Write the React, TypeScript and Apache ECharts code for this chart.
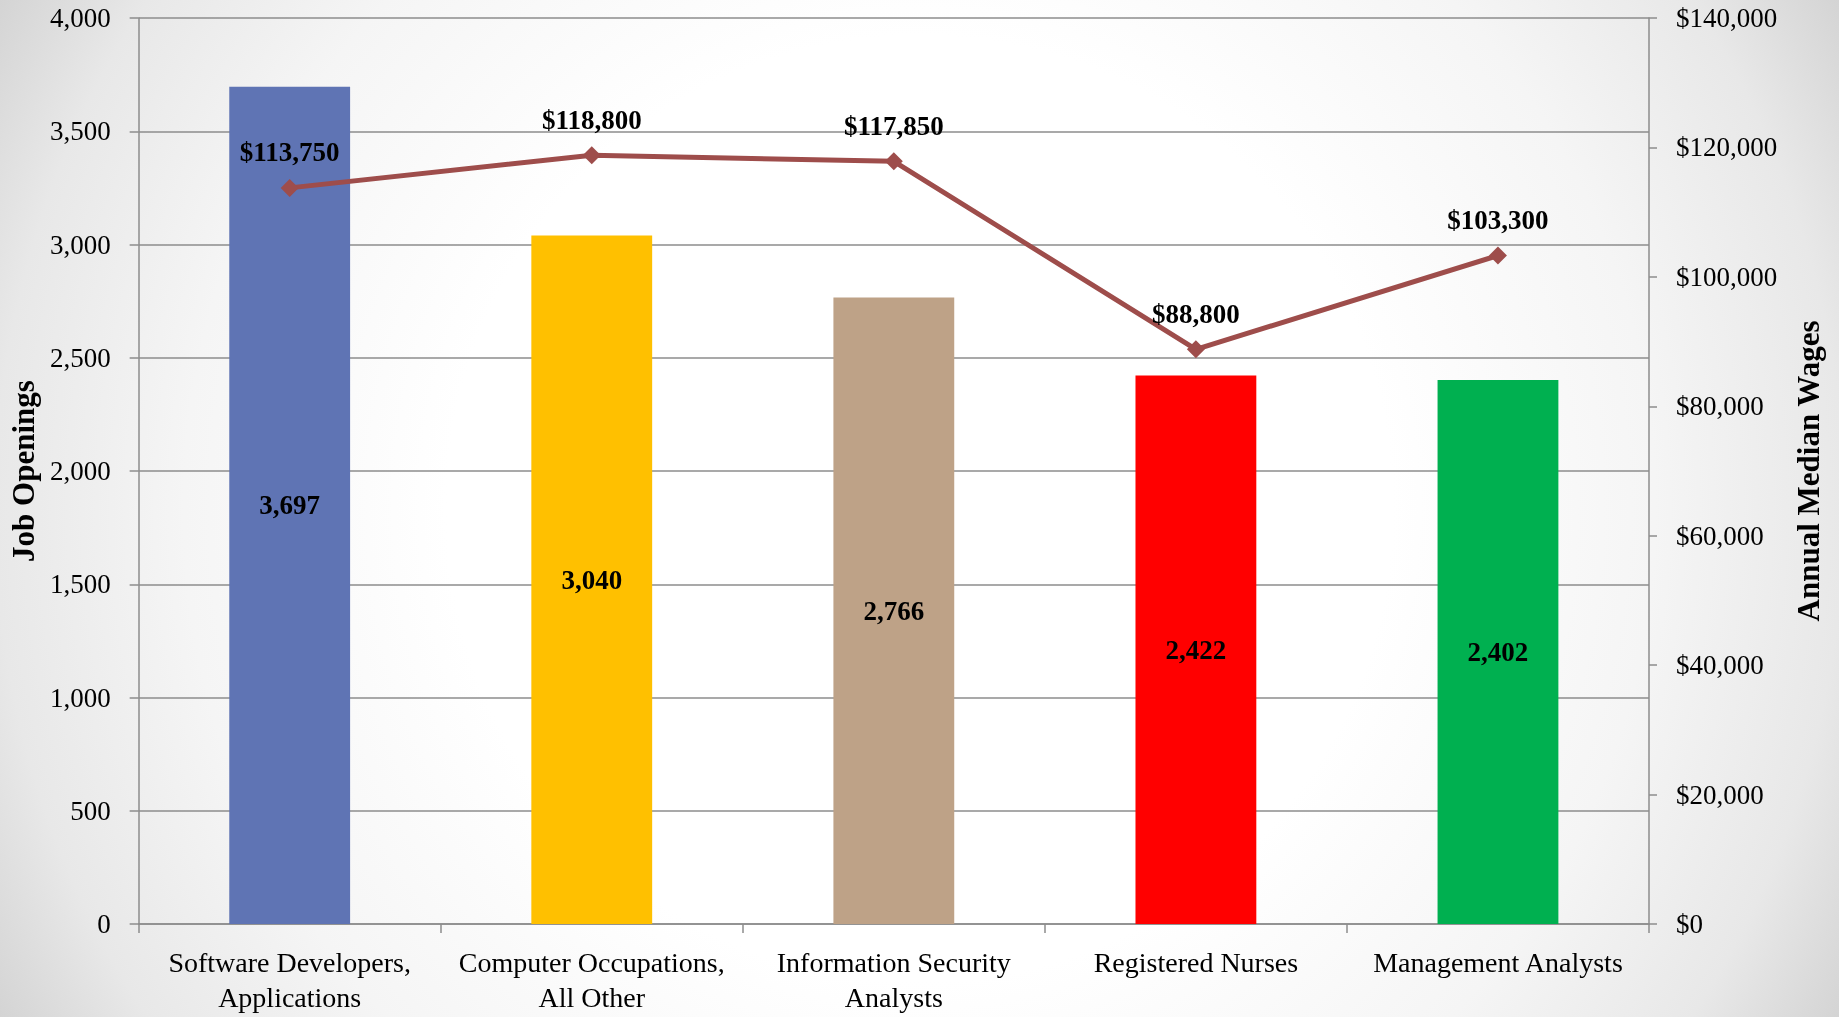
import React, { useEffect, useRef } from "react";
import * as echarts from "echarts";

const categories = [
  "Software Developers,\nApplications",
  "Computer Occupations,\nAll Other",
  "Information Security\nAnalysts",
  "Registered Nurses",
  "Management Analysts",
];
const jobOpenings = [3697, 3040, 2766, 2422, 2402];
const medianWages = [113750, 118800, 117850, 88800, 103300];
const barColors = ["#5F74B4", "#FFC000", "#BEA287", "#FF0000", "#00B050"];

const FONT = "'Liberation Serif', 'Times New Roman', serif";
const fmt = (v: number) => v.toLocaleString("en-US");

export default function App() {
  const ref = useRef<HTMLDivElement>(null);
  useEffect(() => {
    if (!ref.current) return;
    const chart = echarts.init(ref.current, null, { renderer: "svg" });
    const axisGray = "#8c8c8c";
    chart.setOption({
      animation: false,
      backgroundColor: "transparent",
      textStyle: { fontFamily: FONT, color: "#000" },
      grid: { left: 136, right: 190, top: 18, bottom: 93, containLabel: false },
      xAxis: {
        type: "category",
        data: categories,
        axisLine: { lineStyle: { color: axisGray, width: 1.5 } },
        axisTick: { show: true, length: 9, lineStyle: { color: axisGray, width: 1.5 } },
        axisLabel: {
          interval: 0,
          fontFamily: FONT,
          fontSize: 28,
          color: "#000",
          lineHeight: 35,
          margin: 21,
        },
      },
      yAxis: [
        {
          type: "value",
          min: 0,
          max: 4000,
          interval: 500,
          name: "Job Openings",
          nameLocation: "middle",
          nameRotate: 90,
          nameGap: 95,
          nameTextStyle: { fontFamily: FONT, fontSize: 31, fontWeight: "bold", color: "#000" },
          axisLine: { show: true, lineStyle: { color: axisGray, width: 1.5 } },
          axisTick: { show: true, length: 9, lineStyle: { color: axisGray, width: 1.5 } },
          axisLabel: {
            fontFamily: FONT,
            fontSize: 27,
            color: "#000",
            margin: 28,
            formatter: (v: number) => fmt(v),
          },
          splitLine: { show: true, lineStyle: { color: axisGray, width: 1.5 } },
        },
        {
          type: "value",
          min: 0,
          max: 140000,
          interval: 20000,
          position: "right",
          name: "Annual Median Wages",
          nameLocation: "middle",
          nameRotate: 90,
          nameGap: 144,
          nameTextStyle: { fontFamily: FONT, fontSize: 31, fontWeight: "bold", color: "#000" },
          axisLine: { show: true, lineStyle: { color: axisGray, width: 1.5 } },
          axisTick: { show: true, length: 8, lineStyle: { color: axisGray, width: 1.5 } },
          axisLabel: {
            fontFamily: FONT,
            fontSize: 27,
            color: "#000",
            margin: 27,
            formatter: (v: number) => "$" + fmt(v),
          },
          splitLine: { show: false },
        },
      ],
      series: [
        {
          type: "bar",
          yAxisIndex: 0,
          barWidth: "40%",
          data: jobOpenings.map((v, i) => ({ value: v, itemStyle: { color: barColors[i] } })),
          label: {
            show: true,
            position: "inside",
            fontFamily: FONT,
            fontSize: 27,
            fontWeight: "bold",
            color: "#000",
            formatter: (p: any) => fmt(p.value),
          },
        },
        {
          type: "line",
          yAxisIndex: 1,
          data: medianWages,
          symbol: "diamond",
          symbolSize: 18,
          lineStyle: { color: "#9E4D4B", width: 5 },
          itemStyle: { color: "#9E4D4B" },
          label: {
            show: true,
            position: "top",
            distance: 13,
            fontFamily: FONT,
            fontSize: 27,
            fontWeight: "bold",
            color: "#000",
            formatter: (p: any) => "$" + fmt(p.value),
          },
          z: 5,
        },
      ],
    });
    return () => chart.dispose();
  }, []);
  return (
    <div
      style={{
        position: "fixed",
        left: 0,
        top: 0,
        width: 1839,
        height: 1017,
        background:
          "radial-gradient(circle farthest-corner at 50% 50%, #ffffff 0%, #ffffff 45%, #f5f5f5 70%, #e8e8e8 88%, #d4d4d4 100%)",
      }}
    >
      <div ref={ref} style={{ width: 1839, height: 1017 }} />
    </div>
  );
}
